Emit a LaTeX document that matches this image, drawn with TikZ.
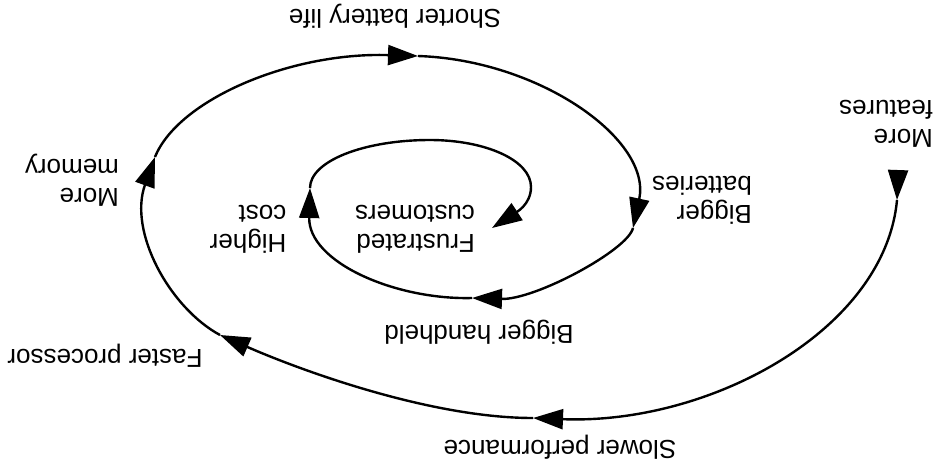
\documentclass[tikz,border=0pt]{standalone}
\usepackage{fontspec}
\setmainfont{Liberation Sans}
\usetikzlibrary{arrows.meta}
\begin{document}
\begin{tikzpicture}[x=1pt,y=-1pt,
  flow/.style={line width=2.4pt, -{Triangle[length=30pt,width=20pt]}},
  lbl/.style={rotate=180, inner sep=0pt, font=\fontsize{26}{29}\selectfont, align=left}]
\useasboundingbox[fill=white] (0,0) rectangle (940,467);
% labels (the whole picture is shown upside down)
\node[lbl] (features) at (886,124) {More\\features};
\node[lbl] (slower) at (560,447) {Slower performance};
\node[lbl] (faster) at (105,356) {Faster processor};
\node[lbl] (memory) at (72,180) {More\\memory};
\node[lbl] (battery) at (395,16) {Shorter battery life};
\node[lbl] (batteries) at (702,200) {Bigger\\batteries};
\node[lbl] (handheld) at (479,332) {Bigger handheld};
\node[lbl] (cost) at (248,229) {Higher\\cost};
\node[lbl] (frustrated) at (415,229) {Frustrated\\customers};
% points on the spiral (arrow tips)
\coordinate (F0) at (898,172);
\coordinate (A0) at (897,200);
\coordinate (A1) at (533,418);
\coordinate (A2) at (220,335);
\coordinate (A3) at (155,157);
\coordinate (A4) at (418,56);
\coordinate (A5) at (633,228);
\coordinate (A6) at (472,298);
\coordinate (A7) at (310,188);
\coordinate (T8) at (430,140);
\coordinate (R8) at (531,187);
\coordinate (A8) at (492,228);
% spiral
\draw[flow] (F0) -- (A0);
\draw[flow] (A0) .. controls (885,330) and (710,425) .. (A1);
\draw[flow] (A1) .. controls (430,418) and (300,370) .. (A2);
\draw[flow] (A2) .. controls (170,308) and (128,232) .. (A3);
\draw[flow] (A3) .. controls (178,100) and (290,52) .. (A4);
\draw[flow] (A4) .. controls (540,60) and (652,140) .. (A5);
\draw[flow] (A5) .. controls (628,250) and (535,300) .. (A6);
\draw[flow] (A6) .. controls (395,300) and (308,262) .. (A7);
\draw[flow] (A7) .. controls (310,161) and (364,140) .. (T8)
  .. controls (485,140) and (531,160) .. (R8)
  .. controls (531,205) and (515,213) .. (A8);
\end{tikzpicture}
\end{document}
